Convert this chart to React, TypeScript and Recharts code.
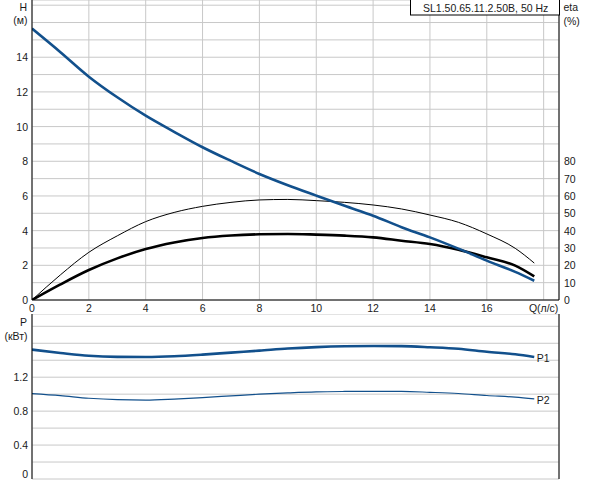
import { LineChart, Line, XAxis, YAxis, CartesianGrid } from 'recharts';

// flow rate Q (l/s)
const flow = [0, 1, 2, 3, 4, 5, 6, 7, 8, 9, 10, 11, 12, 13, 14, 15, 16, 17, 17.67];
// head H (m)
const head = [15.65, 14.29, 12.88, 11.69, 10.63, 9.7, 8.81, 8.02, 7.27, 6.62, 6.02, 5.43, 4.86, 4.2, 3.61, 2.96, 2.27, 1.62, 1.11];
// pump efficiency (%) - thin line
const etaPump = [0, 14.5, 27.5, 37, 45.2, 50.5, 54, 56.3, 57.7, 58, 57.3, 56.3, 54.8, 52.5, 49, 44.8, 38.1, 29.8, 21.3];
// total efficiency (%) - thick line
const etaTotal = [0, 9, 17.3, 24, 29.4, 33.2, 35.8, 37.2, 37.9, 38.1, 37.7, 37.1, 36.1, 34.2, 32.3, 29, 24.6, 19.8, 13.6];
// power (kW)
const powerP1 = [1.525, 1.486, 1.452, 1.44, 1.439, 1.447, 1.466, 1.49, 1.513, 1.538, 1.555, 1.565, 1.568, 1.566, 1.553, 1.535, 1.5, 1.47, 1.439];
const powerP2 = [1.007, 0.983, 0.952, 0.935, 0.93, 0.942, 0.96, 0.98, 1.0, 1.015, 1.027, 1.032, 1.034, 1.033, 1.022, 1.008, 0.984, 0.965, 0.945];

const qTicks = [0, 2, 4, 6, 8, 10, 12, 14, 16, 18];
const hTicks = [0, 1, 2, 3, 4, 5, 6, 7, 8, 9, 10, 11, 12, 13, 14, 15, 16, 17];
const etaTicks = [0, 10, 20, 30, 40, 50, 60, 70, 80];
const pTicks = [0, 0.2, 0.4, 0.6, 0.8, 1.0, 1.2, 1.4, 1.6, 1.8];
const pLabels = [0, 0.4, 0.8, 1.2];

const data = flow.map((q, i) => ({
  q,
  h: head[i],
  etaPump: etaPump[i],
  etaTotal: etaTotal[i],
  p1: powerP1[i],
  p2: powerP2[i],
}));

const BLUE = '#12508c';
const GRID = '#c8c8c8';
const TXT = '#1a1a1a';
const FS = 10.5;
const FONT = '"Liberation Sans", Arial, sans-serif';

const tick = (fmt: (v: number) => string, anchor: string, dy = 0) => (props: any) => {
  const label = fmt(props.payload.value);
  if (!label) return <g />;
  const shift = props.payload.value === 0 && dy ? dy : 0;
  return (
    <text
      x={props.x}
      y={props.y + shift}
      textAnchor={anchor}
      dominantBaseline="central"
      fontSize={FS}
      fontFamily={FONT}
      fill={TXT}
    >
      {label}
    </text>
  );
};

const endLabel = (name: string) => (props: any) =>
  props.index === flow.length - 1 ? (
    <text x={props.x + 2.5} y={props.y + 1} dominantBaseline="central" fontSize={FS} fontFamily={FONT} fill={TXT}>
      {name}
    </text>
  ) : (
    <g />
  );

export default function App() {
  return (
    <div style={{ position: 'absolute', left: 0, top: 0, width: 592, height: 480, background: '#fff', overflow: 'hidden' }}>
      {/* H / eta panel */}
      <div style={{ position: 'absolute', left: 0, top: 0 }}>
        <LineChart width={592} height={315} data={data} margin={{ top: 0, right: 0, bottom: 0, left: 0 }}>
          <CartesianGrid yAxisId="h" stroke={GRID} strokeWidth={1} />
          <XAxis
            dataKey="q"
            type="number"
            domain={[0, 18.54]}
            allowDataOverflow
            ticks={qTicks}
            interval={0}
            height={15}
            tickLine={false}
            tickSize={0}
            tickMargin={8}
            axisLine={{ stroke: '#000' }}
            tick={tick((v) => (v === 18 ? 'Q(л/с)' : String(v)), 'middle')}
          />
          <YAxis
            yAxisId="h"
            type="number"
            domain={[0, 17.3]}
            allowDataOverflow
            ticks={hTicks}
            interval={0}
            width={32}
            tickLine={false}
            tickSize={0}
            tickMargin={4}
            axisLine={{ stroke: '#000' }}
            tick={tick((v) => (v % 2 === 0 && v <= 14 ? String(v) : ''), 'end')}
          />
          <YAxis
            yAxisId="eta"
            orientation="right"
            type="number"
            domain={[0, 173]}
            allowDataOverflow
            ticks={etaTicks}
            interval={0}
            width={33}
            tickLine={false}
            tickSize={0}
            tickMargin={5}
            axisLine={{ stroke: '#000' }}
            tick={tick((v) => String(v), 'start')}
          />
          <Line yAxisId="eta" dataKey="etaPump" type="monotone" stroke="#000" strokeWidth={1} dot={false} isAnimationActive={false} />
          <Line yAxisId="eta" dataKey="etaTotal" type="monotone" stroke="#000" strokeWidth={2.6} dot={false} isAnimationActive={false} />
          <Line yAxisId="h" dataKey="h" type="monotone" stroke={BLUE} strokeWidth={2.6} dot={false} isAnimationActive={false} />
        </LineChart>
      </div>

      {/* power panel */}
      <div style={{ position: 'absolute', left: 0, top: 314 }}>
        <LineChart width={592} height={166} data={data} margin={{ top: 0, right: 0, bottom: 1, left: 0 }}>
          <CartesianGrid yAxisId="p" stroke={GRID} strokeWidth={1} />
          <XAxis
            dataKey="q"
            type="number"
            domain={[0, 18.54]}
            allowDataOverflow
            ticks={qTicks}
            height={0}
            tick={false}
            tickLine={false}
            axisLine={{ stroke: '#000' }}
          />
          <XAxis
            xAxisId="top"
            orientation="top"
            dataKey="q"
            type="number"
            domain={[0, 18.54]}
            allowDataOverflow
            height={0}
            tick={false}
            tickLine={false}
            axisLine={{ stroke: '#000' }}
          />
          <YAxis
            yAxisId="p"
            type="number"
            domain={[0, 1.945]}
            allowDataOverflow
            ticks={pTicks}
            interval={0}
            width={32}
            tickLine={false}
            tickSize={0}
            tickMargin={4}
            axisLine={{ stroke: '#000' }}
            tick={tick((v) => (pLabels.some((l) => Math.abs(l - v) < 1e-6) ? (v === 0 ? '0' : v.toFixed(1)) : ''), 'end', -5)}
          />
          <YAxis
            yAxisId="r"
            orientation="right"
            type="number"
            domain={[0, 1.945]}
            width={33}
            tick={false}
            tickLine={false}
            axisLine={{ stroke: '#000' }}
          />
          <Line yAxisId="p" dataKey="p1" type="monotone" stroke={BLUE} strokeWidth={2.6} dot={false} label={endLabel('P1')} isAnimationActive={false} />
          <Line yAxisId="p" dataKey="p2" type="monotone" stroke={BLUE} strokeWidth={1.2} dot={false} label={endLabel('P2')} isAnimationActive={false} />
        </LineChart>
      </div>

      {/* axis titles and title box */}
      <svg width={592} height={480} style={{ position: 'absolute', left: 0, top: 0, pointerEvents: 'none' }}>
        <g fontSize={FS} fontFamily={FONT} fill={TXT} dominantBaseline="central">
          <text x={27} y={7} textAnchor="end">H</text>
          <text x={27.5} y={20} textAnchor="end">(м)</text>
          <text x={563.5} y={7} textAnchor="start">eta</text>
          <text x={563.5} y={20.5} textAnchor="start">(%)</text>
          <text x={27} y={321.5} textAnchor="end">P</text>
          <text x={27.5} y={335.5} textAnchor="end">(кВт)</text>
        </g>
        <rect x={410.5} y={-1} width={149} height={16} fill="#fff" stroke="#000" strokeWidth={1} />
        <text x={423} y={8} dominantBaseline="central" fontSize={FS} fontFamily={FONT} fill={TXT}>
          SL1.50.65.11.2.50B, 50 Hz
        </text>
      </svg>
    </div>
  );
}
